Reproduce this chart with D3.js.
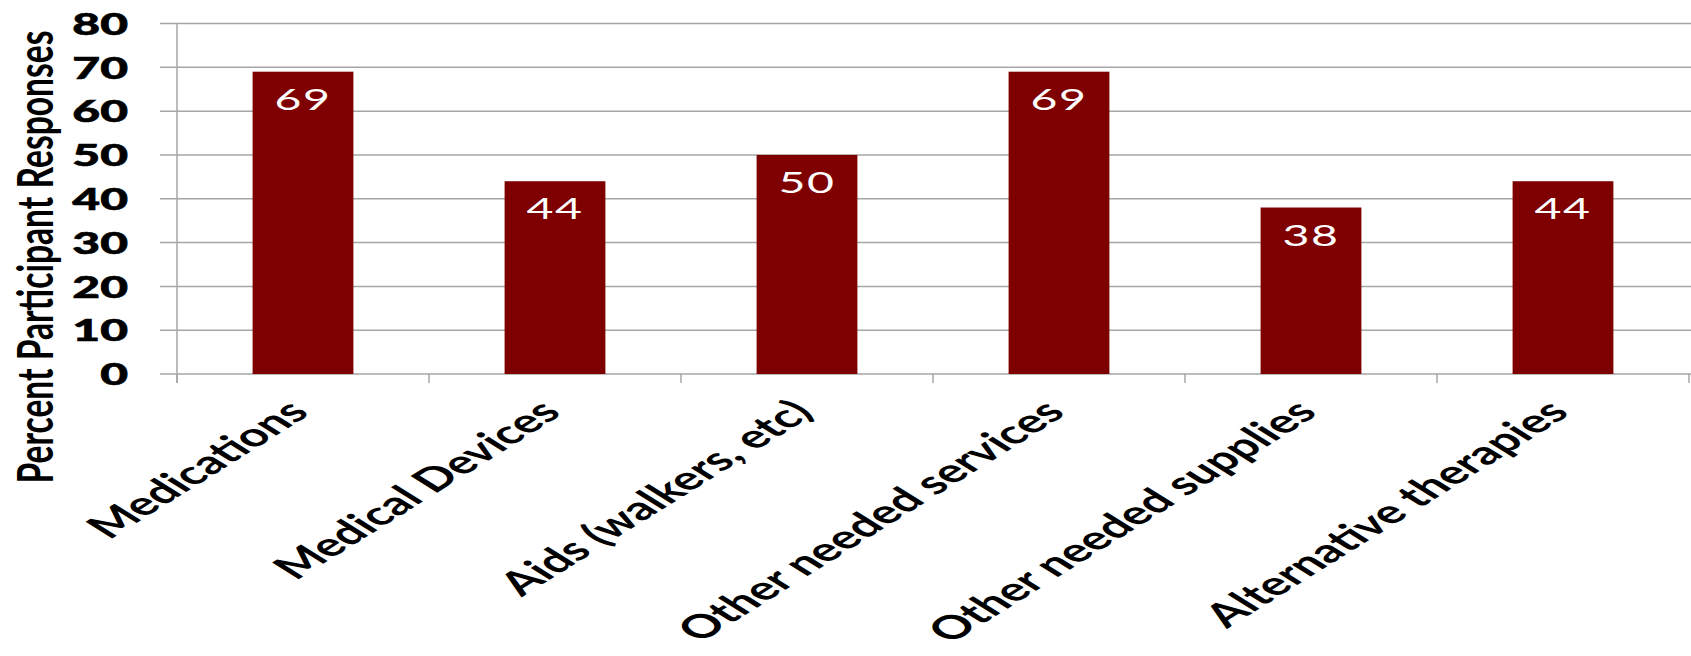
<!DOCTYPE html>
<html>
<head>
<meta charset="utf-8">
<script src="https://cdn.jsdelivr.net/npm/d3@7"></script>
<style>
  html, body { margin: 0; padding: 0; background: #fff; }
  svg { display: block; }
</style>
</head>
<body>
<svg id="chart"></svg>
<script>
const categories = ["Medications", "Medical Devices", "Aids (walkers, etc)",
  "Other needed services", "Other needed supplies", "Alternative therapies"]
const values = [69, 44, 50, 69, 38, 44]
const yTicks = [0, 10, 20, 30, 40, 50, 60, 70, 80]
const yTitle = "Percent Participant Responses"

// the picture is stretched sideways, so draw in a narrow frame and let the viewBox stretch it
const WIDTH = 1691
const HEIGHT = 656
const STRETCH = 1.6
const frameW = WIDTH / STRETCH

const plotLeft = 177 / STRETCH
const plotRight = 1689 / STRETCH
const gridLeft = 160 / STRETCH
const plotTop = 23.5
const plotBottom = 374

const svg = d3.select('#chart')
    .attr('width', WIDTH)
    .attr('height', HEIGHT)
    .attr('viewBox', `0 0 ${frameW} ${HEIGHT}`)
    .attr('preserveAspectRatio', 'none')

const x = d3.scaleBand()
    .domain(categories)
    .range([plotLeft, plotRight])
    .paddingInner(0.6)
    .paddingOuter(0.3)

const y = d3.scaleLinear()
    .domain([0, 80])
    .range([plotBottom, plotTop])

// gridlines
svg.append('g')
    .selectAll('line')
    .data(yTicks)
    .join('line')
        .attr('x1', gridLeft)
        .attr('x2', frameW)
        .attr('y1', d => y(d))
        .attr('y2', d => y(d))
        .attr('stroke', '#a6a6a6')
        .attr('stroke-width', 1.5)
        .attr('vector-effect', 'non-scaling-stroke')

// y axis line
svg.append('line')
    .attr('x1', plotLeft).attr('x2', plotLeft)
    .attr('y1', y(80)).attr('y2', plotBottom + 9)
    .attr('stroke', '#a6a6a6')
    .attr('stroke-width', 1.5)
    .attr('vector-effect', 'non-scaling-stroke')

// category separators under the axis
const step = x.step()
svg.append('g')
    .selectAll('line')
    .data(d3.range(categories.length + 1))
    .join('line')
        .attr('x1', i => plotLeft + i * step)
        .attr('x2', i => plotLeft + i * step)
        .attr('y1', plotBottom)
        .attr('y2', plotBottom + 9)
        .attr('stroke', '#a6a6a6')
        .attr('stroke-width', 1.5)
        .attr('vector-effect', 'non-scaling-stroke')

// bars
svg.append('g')
    .selectAll('rect')
    .data(values)
    .join('rect')
        .attr('x', (d, i) => x(categories[i]))
        .attr('y', d => y(d))
        .attr('width', x.bandwidth())
        .attr('height', d => y(0) - y(d))
        .attr('fill', '#7f0000')

// value labels
svg.append('g')
    .selectAll('text')
    .data(values)
    .join('text')
        .attr('x', (d, i) => x(categories[i]) + x.bandwidth() / 2)
        .attr('y', d => y(d) + 38)
        .attr('text-anchor', 'middle')
        .attr('fill', '#fff')
        .attr('font-family', 'Lato, "Open Sans", sans-serif')
        .attr('font-size', 29)
        .attr('letter-spacing', 1)
        .text(d => d)

// y tick labels
const yAxis = d3.axisLeft(y)
    .tickValues(yTicks)
    .tickSize(0)
    .tickPadding(0)

const yG = svg.append('g')
    .attr('transform', `translate(${128 / STRETCH},0)`)
    .call(yAxis)
yG.select('.domain').remove()
yG.selectAll('text')
    .attr('font-family', 'Lato, "Open Sans", sans-serif')
    .attr('font-weight', 900)
    .attr('font-size', 30)
    .attr('fill', '#000')
    .attr('stroke', '#000')
    .attr('stroke-width', 0.6)
    .attr('dy', '0.36em')

// x labels, rotated
svg.append('g')
    .selectAll('text')
    .data(categories)
    .join('text')
        .attr('transform', d => `translate(${x(d) + x.bandwidth() / 2 + 5},${plotBottom + 40}) rotate(-45)`)
        .attr('text-anchor', 'end')
        .attr('font-family', 'Lato, "Open Sans", sans-serif')
        .attr('font-weight', 700)
        .attr('font-size', 32.5)
        .attr('fill', '#000')
        .text(d => d)

// y title
svg.append('text')
    .attr('transform', `translate(${53 / STRETCH},257) rotate(-90)`)
    .attr('text-anchor', 'middle')
    .attr('font-family', 'Lato, "Open Sans", sans-serif')
    .attr('font-weight', 700)
    .attr('font-size', 31)
    .attr('textLength', 453)
    .attr('lengthAdjust', 'spacingAndGlyphs')
    .attr('fill', '#000')
    .text(yTitle)
</script>
</body>
</html>
